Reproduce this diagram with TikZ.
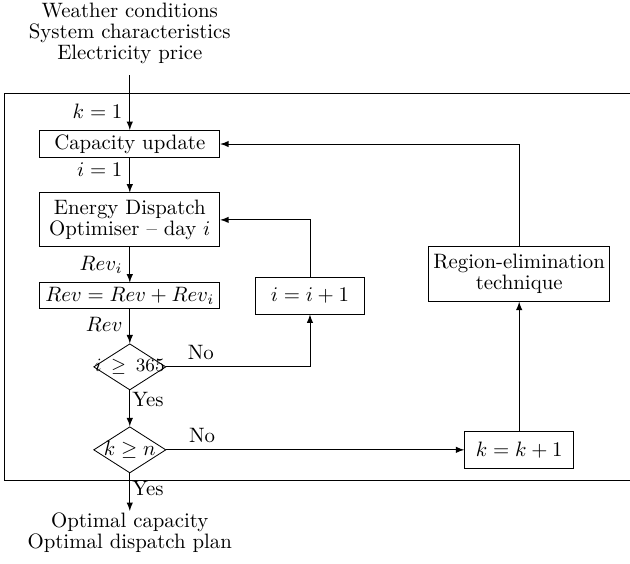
\documentclass[tikz,border=0pt]{standalone}
\usetikzlibrary{arrows.meta,shapes.geometric}

\begin{document}
\begin{tikzpicture}[-latex,
	every node/.style={font=\linespread{0.83}\selectfont},
	block/.style={draw,align=center,inner sep=2pt},
	decision/.style={draw,diamond,inner sep=0pt,minimum width=1.22cm,minimum height=0.78cm}]
	\useasboundingbox (0,0) rectangle (10.63,-9.50);
	\node[align=center] (In) at (2.19,-0.56) {Weather conditions\\System characteristics\\Electricity price};
	\node[block,minimum width=3.04cm,minimum height=0.44cm] (Cap) at (2.19,-2.43) {Capacity update};
	\node[block,minimum width=3.04cm,minimum height=0.91cm] (Opt) at (2.19,-3.71) {Energy Dispatch\\Optimiser -- day \(i\)};
	\node[block,minimum width=3.04cm,minimum height=0.40cm] (Sum) at (2.19,-4.99) {\(Rev = Rev + Rev_i\)};
	\node[decision,font=\small] (D1) at (2.19,-6.19) {\makebox[0pt]{\(i \:\geq\: 365\)}};
	\node[decision] (D2) at (2.19,-7.59) {\makebox[0pt]{\(k \geq n\)}};
	\node[block,minimum width=1.84cm,minimum height=0.62cm] (Inci) at (5.23,-4.99) {\(i = i + 1\)};
	\node[block,minimum width=3.05cm,minimum height=0.93cm] (Reg) at (8.76,-4.62) {Region-elimination\\technique};
	\node[block,minimum width=1.84cm,minimum height=0.62cm] (Inck) at (8.76,-7.59) {\(k = k + 1\)};
	\node[align=center] (Out) at (2.19,-8.99) {Optimal capacity\\Optimal dispatch plan};
	\coordinate (Start) at (2.19,-1.27);
	\coordinate (End) at (2.19,-8.62);
	% frame, open on the right
	\draw[-] (10.63,-1.57) -- (0.07,-1.57) -- (0.07,-8.10) -- (10.63,-8.10);
	\draw (Start) to node [pos=0.65,left] {\(k = 1\)} (Cap);
	\draw (Cap) to node [pos=0.35,left] {\(i = 1\)} (Opt);
	\draw (Opt) to node [left] {\(Rev_i\)} (Sum);
	\draw (Sum) to node [pos=0.45,left] {\(Rev\)} (D1);
	\draw (D1) to node [pos=0.25,right,inner sep=1pt] {Yes} (D2);
	\draw (D2) to node [pos=0.4,right,inner sep=1pt] {Yes} (End);
	\draw (D1.east) -| node [pos=0.12,above] {No} (Inci.south);
	\draw (Inci.north) |- (Opt.east);
	\draw (D2.east) to node [pos=0.12,above] {No} (Inck.west);
	\draw (Inck) to (Reg);
	\draw (Reg.north) |- (Cap.east);
\end{tikzpicture}
\end{document}
